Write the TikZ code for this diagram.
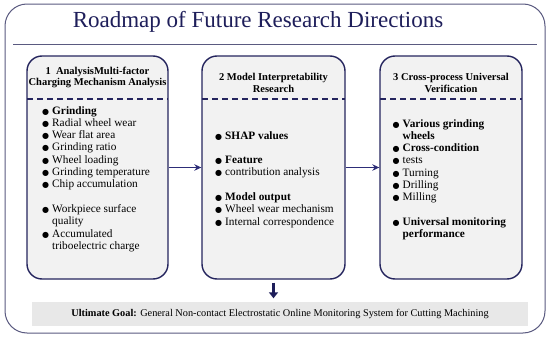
\documentclass[tikz,border=0pt]{standalone}
\usepackage{fontspec}
\setmainfont{Liberation Serif}
\newfontfamily\symf{DejaVu Sans}
\usetikzlibrary{arrows.meta}
\definecolor{boxline}{HTML}{25255E}
\definecolor{titlecol}{HTML}{1E1E5A}
\definecolor{outerline}{HTML}{5A5A80}
\definecolor{arrowcol}{HTML}{2D2D78}
\definecolor{boxfill}{HTML}{F2F2F2}
\definecolor{barfill}{HTML}{E8E8E8}
\newcommand{\bul}{{\symf\fontsize{8}{8}\selectfont ●}}
\newcommand{\itm}[1]{\makebox[10pt][l]{\bul}#1}
\newcommand{\cnt}{\hspace*{10pt}}
\begin{document}
\begin{tikzpicture}[x=1pt,y=-1pt,
  stagebox/.style={draw=boxline, line width=1.4pt, fill=boxfill, rounded corners=15pt,
    minimum height=223pt, inner sep=0pt},
  boxtitle/.style={font=\bfseries\fontsize{10.5}{11.8}\selectfont, align=center, inner sep=0pt},
  boxbody/.style={font=\fontsize{11.3}{12.3}\selectfont, align=left, anchor=north west, inner sep=0pt},
  dashsep/.style={draw=boxline, line width=1.1pt, dash pattern=on 6pt off 4pt},
  flow/.style={draw=arrowcol, line width=1.6pt, -{Stealth[length=7pt,width=6.5pt]}}
]
\useasboundingbox (0,0) rectangle (550,340);
\fill[white] (0,0) rectangle (550,340);
% outer frame
\draw[outerline, line width=1pt, rounded corners=22pt] (5,4) rectangle (545,333);
\node[font=\fontsize{23}{27}\selectfont, text=titlecol, inner sep=0pt] (title) at (258,22) {Roadmap of Future Research Directions};
\draw[outerline, line width=0.9pt] (13,44) -- (537,44);

% boxes
\node[stagebox, minimum width=141pt] (b1) at (97.5,167.5) {};
\node[stagebox, minimum width=143pt] (b2) at (273.5,167.5) {};
\node[stagebox, minimum width=142pt] (b3) at (451,167.5) {};

\draw[dashsep] (27,99) -- (168,99);
\draw[dashsep] (202,99) -- (345,99);
\draw[dashsep] (380,99) -- (522,99);

\node[boxtitle] (t1) at (97.5,77.5) {1\enspace AnalysisMulti-factor\\Charging Mechanism Analysis};
\node[boxtitle] (t2) at (273.5,83) {2 Model Interpretability\\Research};
\node[boxtitle] (t3) at (451,83) {3 Cross-process Universal\\Verification};

\node[boxbody] (c1) at (42,106) {\itm{\textbf{Grinding}}\\
\itm{Radial wheel wear}\\
\itm{Wear flat area}\\
\itm{Grinding ratio}\\
\itm{Wheel loading}\\
\itm{Grinding temperature}\\
\itm{Chip accumulation}\\[12.3pt]
\itm{Workpiece surface}\\
\cnt quality\\
\itm{Accumulated}\\
\cnt triboelectric charge};

\node[boxbody] (c2) at (215,131) {\itm{\textbf{SHAP values}}\\[12.3pt]
\itm{\textbf{Feature}}\\
\itm{contribution analysis}\\[12.3pt]
\itm{\textbf{Model output}}\\
\itm{Wheel wear mechanism}\\
\itm{Internal correspondence}};

\node[boxbody] (c3) at (392.5,119) {\itm{\textbf{Various grinding}}\\
\cnt\textbf{wheels}\\
\itm{\textbf{Cross-condition}}\\
\itm{tests}\\
\itm{Turning}\\
\itm{Drilling}\\
\itm{Milling}\\[12.3pt]
\itm{\textbf{Universal monitoring}}\\
\cnt\textbf{performance}};

% goal bar
\node[fill=barfill, minimum width=496pt, minimum height=24pt, inner sep=0pt,
  font=\fontsize{10.3}{12}\selectfont] (goal) at (280,314)
  {\textbf{Ultimate Goal:} General Non-contact Electrostatic Online Monitoring System for Cutting Machining};

% connectors
\draw[flow] (b1.east) -- (b2.west);
\draw[flow] (b2.east) -- (b3.west);
\draw[draw=titlecol, line width=3.6pt, -{Triangle[length=6pt,width=9pt]},
  shorten <=3pt, shorten >=3.5pt] (b2.south) -- (b2.south |- goal.north);
\end{tikzpicture}
\end{document}
